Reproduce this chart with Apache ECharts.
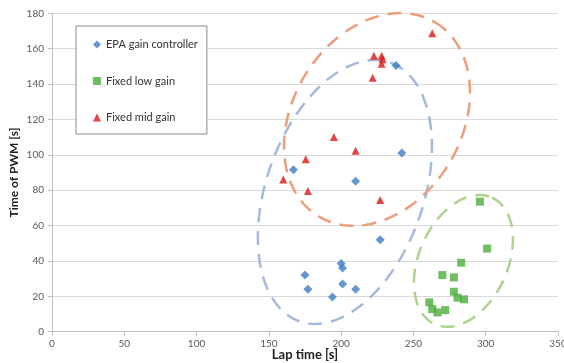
<!DOCTYPE html>
<html>
<head>
<meta charset="utf-8">
<script src="https://cdn.jsdelivr.net/npm/echarts@6/dist/echarts.min.js"></script>
<style>html,body{margin:0;padding:0;background:#fff}#c{width:564px;height:363px}</style>
</head>
<body>
<div id="c"></div>
<script>
// Series data: [lap time (s), time of PWM (s)]
var epaGain = [[175,32],[177,24],[200,38.5],[201,36],[201,27],[210,24],[194,19.6],[227,52],[167,91.5],[210,85],[242,101],[238,150.5]];
var fixedLow = [[296,73.5],[301,47],[283,39],[270,32],[278,30.7],[278,22.6],[280.5,19.2],[285,18.3],[261,16.6],[263,12.8],[266.7,10.9],[272,12.2]];
var fixedMid = [[195,110],[210,102.3],[175.5,97.5],[160,86],[177,79.5],[227,74.4],[263,168.7],[222.7,156],[228,156],[228.7,154],[228,151.5],[221.8,143.6]];
var seriesNames = ['EPA gain controller','Fixed low gain','Fixed mid gain'];
var xTicks = [0,50,100,150,200,250,300,350];
var yTicks = [0,20,40,60,80,100,120,140,160,180];
// Hand-drawn grouping ellipses (data units): centre, two conjugate semi-axis vectors
var ellipseCentres = [[202.6,79.0],[224.8,120.0],[284.6,40.0]];
var ellipseAxisA = [[31.5,73.1],[40.2,54.9],[19.7,35.8]];
var ellipseAxisB = [[51.3,-14.8],[50.2,-24.5],[28.0,-10.3]];
var ellipseColors = ['#a3b9dd','#ef9c78','#aed391'];

var font = 'Lato, "Open Sans", sans-serif';
function ellipseSeries(i){
  return {
    type:'custom', silent:true, z:1,
    data:[ellipseCentres[i]],
    renderItem:function(params, api){
      var c = ellipseCentres[i], a = ellipseAxisA[i], b = ellipseAxisB[i];
      var pts = [];
      for (var k=0;k<=160;k++){
        var t = k/160*Math.PI*2;
        pts.push(api.coord([c[0]+a[0]*Math.cos(t)+b[0]*Math.sin(t), c[1]+a[1]*Math.cos(t)+b[1]*Math.sin(t)]));
      }
      return {type:'polyline', shape:{points:pts}, style:{fill:null, stroke:ellipseColors[i], lineWidth:2.5, lineDash:[14,9]}};
    }
  };
}
var chart = echarts.init(document.getElementById('c'));
chart.setOption({
  animation:false,
  grid:{left:52, right:6, top:13.3, bottom:31.3, containLabel:false, outerBoundsMode:'none'},
  legend:{
    data:seriesNames, orient:'vertical', left:76, top:26,
    padding:[13,9,11,17], itemGap:25.5, itemWidth:8, itemHeight:8,
    backgroundColor:'#fff', borderColor:'#8c8c8c', borderWidth:1,
    textStyle:{fontFamily:font, fontSize:11, color:'#333'}
  },
  xAxis:{
    type:'value', min:0, max:350, interval:50,
    name:'Lap time [s]', nameLocation:'middle', nameGap:17, nameMoveOverlap:false,
    nameTextStyle:{fontFamily:font, fontSize:13, fontWeight:'bold', color:'#222'},
    axisLine:{lineStyle:{color:'#bfbfbf'}},
    axisTick:{show:true, length:4, lineStyle:{color:'#bfbfbf'}},
    axisLabel:{fontFamily:font, fontSize:10, color:'#595959', margin:7,
      formatter:function(v){return xTicks.indexOf(v)>=0?String(v):'';}},
    splitLine:{show:false}
  },
  yAxis:{
    type:'value', min:0, max:180, interval:20,
    name:'Time of PWM [s]', nameLocation:'middle', nameGap:32, nameMoveOverlap:false,
    nameTextStyle:{fontFamily:font, fontSize:12, fontWeight:'bold', color:'#222'},
    axisLine:{show:true, lineStyle:{color:'#bfbfbf'}},
    axisTick:{show:true, length:4, lineStyle:{color:'#bfbfbf'}},
    axisLabel:{fontFamily:font, fontSize:10, color:'#595959', margin:8,
      formatter:function(v){return yTicks.indexOf(v)>=0?String(v):'';}},
    splitLine:{lineStyle:{color:'#d9d9d9'}}
  },
  series:[
    ellipseSeries(0), ellipseSeries(1), ellipseSeries(2),
    {name:seriesNames[0], type:'scatter', data:epaGain, symbol:'diamond', symbolSize:9, z:3, itemStyle:{color:'#3f7cc0'}},
    {name:seriesNames[1], type:'scatter', data:fixedLow, symbol:'rect', symbolSize:8, z:3, itemStyle:{color:'#4cac3c'}},
    {name:seriesNames[2], type:'scatter', data:fixedMid, symbol:'triangle', symbolSize:8, z:3, itemStyle:{color:'#dd1515'}}
  ]
});
</script>
</body>
</html>
